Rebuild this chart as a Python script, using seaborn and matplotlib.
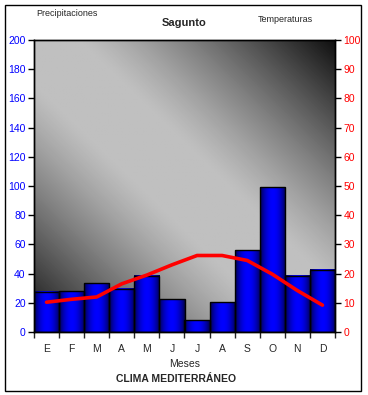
import numpy as np
import pandas as pd
import matplotlib
matplotlib.use("Agg")
import matplotlib.pyplot as plt
import matplotlib.patches as mpatches
import seaborn as sns

meses = ["E", "F", "M", "A", "M", "J", "J", "A", "S", "O", "N", "D"]
precipitaciones = [27.5, 28, 33.5, 29.5, 38.5, 22.5, 8, 20.5, 56, 99, 38.5, 42.5]
temperaturas = [10.2, 11.2, 12.0, 16.5, 19.5, 23.0, 26.2, 26.2, 24.5, 19.8, 14.2, 9.2]

df = pd.DataFrame({"pos": np.arange(12), "mes": meses,
                   "precip": precipitaciones, "temp": temperaturas})

sns.set_style("white")
plt.rcParams["font.family"] = ["Liberation Sans", "DejaVu Sans"]

fig = plt.figure(figsize=(3.68, 3.95), dpi=100)
ax = fig.add_axes([34 / 368, 1 - 332 / 395, 301 / 368, 292 / 395])

# gray diagonal background
gx, gy = np.meshgrid(np.linspace(0, 1, 200), np.linspace(0, 1, 200))
d = np.clip((np.abs(gx - gy) - 0.15) / 0.85, 0, 1) ** 1.2
bg = (192 - 176 * d) / 255
ax.imshow(bg, cmap="gray", vmin=0, vmax=1, extent=(-0.5, 11.5, 0, 200),
          aspect="auto", origin="upper", zorder=0)

sns.barplot(data=df, x="pos", y="precip", color="#0000ff", width=1.0,
            edgecolor="black", linewidth=1.0, ax=ax, zorder=2)

# horizontal blue shading inside each bar
h = np.linspace(-1, 1, 64)
shade = 1 - np.abs(h) ** 2
rgb = np.zeros((1, 64, 3))
rgb[0, :, 2] = 0.3 + 0.7 * shade
bars = [p for p in ax.patches if isinstance(p, mpatches.Rectangle)]
for p in bars:
    x0, y0 = p.get_x(), p.get_y()
    ax.imshow(rgb, extent=(x0, x0 + p.get_width(), y0, y0 + p.get_height()),
              aspect="auto", interpolation="bilinear", zorder=2.5)
    p.set_facecolor("none")
    p.set_zorder(3)

ax.set_xlim(-0.5, 11.5)
ax.set_ylim(0, 200)
ax.set_yticks(np.arange(0, 201, 20))
ax.tick_params(axis="y", colors="black", labelcolor="#0000ff", labelsize=7.5,
               length=4, width=1, direction="out", left=True, pad=2)
ax.set_xticks(np.arange(-0.5, 12, 1))
ax.set_xticklabels([])
ax.set_xticks(np.arange(12), minor=True)
ax.set_xticklabels(meses, minor=True)
ax.tick_params(axis="x", which="major", length=4, width=1, bottom=True, direction="out")
ax.tick_params(axis="x", which="minor", length=0, labelsize=7.5, pad=9)
ax.set_xlabel("Meses", fontsize=7.5, labelpad=3)
ax.set_ylabel("")
for s in ax.spines.values():
    s.set_visible(True)
    s.set_color("black")
    s.set_linewidth(1)

ax2 = ax.twinx()
sns.lineplot(data=df, x="pos", y="temp", color="red", linewidth=2.6, ax=ax2, zorder=5)
ax2.set_ylim(0, 100)
ax2.set_xlim(-0.5, 11.5)
ax2.set_yticks(np.arange(0, 101, 10))
ax2.tick_params(axis="y", colors="black", labelcolor="red", labelsize=7.5,
                length=4, width=1, direction="out", right=True, pad=2)
ax2.set_ylabel("")
for s in ax2.spines.values():
    s.set_color("black")
    s.set_linewidth(1)

fig.text(36 / 368, 1 - 13 / 395, "Precipitaciones", fontsize=6.5, va="center", ha="left")
fig.text(184 / 368, 1 - 23 / 395, "Sagunto", fontsize=8, fontweight="bold",
         va="center", ha="center")
fig.text(258 / 368, 1 - 19 / 395, "Temperaturas", fontsize=6.5, va="center", ha="left")
fig.text(176 / 368, 1 - 379 / 395, "CLIMA MEDITERRÁNEO", fontsize=7.5,
         fontweight="bold", va="center", ha="center")

fig.patches.append(mpatches.Rectangle((5 / 368, 1 - 391 / 395), 356 / 368, 386 / 395,
                                      transform=fig.transFigure, fill=False,
                                      edgecolor="black", linewidth=1))

fig.savefig("out.png", dpi=100)
